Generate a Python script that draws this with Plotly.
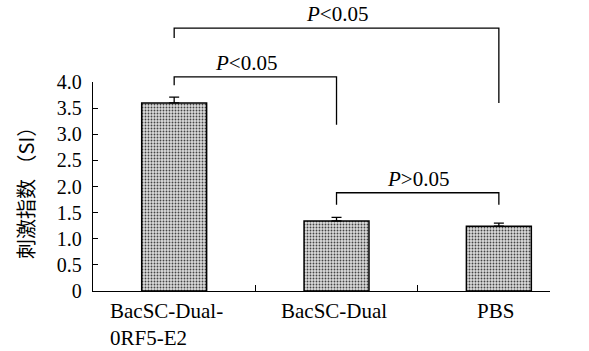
import plotly.graph_objects as go

categories = ["BacSC-Dual-<br>0RF5-E2", "BacSC-Dual", "PBS"]
si_values = [3.60, 1.34, 1.24]
si_errors = [0.11, 0.07, 0.06]
y_ticks = [0, 0.5, 1.0, 1.5, 2.0, 2.5, 3.0, 3.5, 4.0]
y_ticklabels = ["0", "0.5", "1.0", "1.5", "2.0", "2.5", "3.0", "3.5", "4.0"]

# significance brackets: (left cat, right cat, bar level, left arm end, right arm end, label)
brk_left = [0, 0, 1]
brk_right = [2, 1, 2]
brk_level = [5.03, 4.10, 1.88]
brk_left_end = [4.84, 3.94, 1.65]
brk_right_end = [3.60, 3.18, 1.65]
brk_label = ["<i>P</i>&lt;0.05", "<i>P</i>&lt;0.05", "<i>P</i>&gt;0.05"]

YMAX = 4.0
SERIF = "Liberation Serif"

fig = go.Figure()
xs = list(range(len(categories)))
fig.add_trace(go.Bar(
    x=xs, y=si_values, width=0.4,
    marker=dict(
        color="#cfcfcf",
        line=dict(color="black", width=1.5),
        pattern=dict(shape=".", fgcolor="#444444", bgcolor="#dadada", size=3, solidity=0.3, fillmode="replace"),
    ),
    error_y=dict(type="data", array=si_errors, arrayminus=[0] * len(si_errors), symmetric=False,
                 color="black", thickness=1.3, width=5),
    showlegend=False,
))

shapes = []
annotations = []
for i in range(len(brk_level)):
    xl, xr = brk_left[i], brk_right[i]
    lvl = brk_level[i] / YMAX
    shapes.append(dict(type="path", xref="x", yref="paper",
                       path=f"M {xl},{brk_left_end[i]/YMAX} L {xl},{lvl} L {xr},{lvl} L {xr},{brk_right_end[i]/YMAX}",
                       line=dict(color="black", width=1.3)))
    annotations.append(dict(x=(xl + xr) / 2 - 0.06 * (1 if i == 1 else 0), y=lvl, xref="x", yref="paper",
                            text=brk_label[i], showarrow=False, yanchor="bottom", yshift=0,
                            font=dict(family=SERIF, size=21, color="black")))

for i, c in enumerate(categories):
    annotations.append(dict(x=i, y=0, xref="x", yref="paper", text=c, showarrow=False,
                            yanchor="top", yshift=-6, xshift=-8 if i == 0 else -3,
                            align="left",
                            font=dict(family=SERIF, size=21, color="black")))

annotations.append(dict(x=-0.148, y=0.495, xref="paper", yref="paper", text="刺激指数 （SI）",
                        textangle=-90, showarrow=False, xanchor="center", yanchor="middle",
                        font=dict(family="Noto Sans CJK SC", size=20, color="black")))

fig.update_layout(
    width=589, height=351,
    margin=dict(l=93, r=39, t=82, b=60),
    plot_bgcolor="white", paper_bgcolor="white",
    shapes=shapes, annotations=annotations,
    font=dict(family=SERIF, size=20, color="black"),
)
fig.update_xaxes(range=[-0.5, 2.315], tickvals=[0.5, 1.5], showticklabels=False,
                 ticks="inside", ticklen=6, tickwidth=1.3, tickcolor="black",
                 showline=True, linecolor="black", linewidth=1.3, showgrid=False, zeroline=False)
fig.update_yaxes(range=[0, YMAX], tickvals=y_ticks, ticktext=y_ticklabels,
                 ticks="inside", ticklen=5, tickwidth=1.3, tickcolor="black",
                 showline=True, linecolor="black", linewidth=1.3, showgrid=False, zeroline=False,
                 ticklabelstandoff=6,
                 tickfont=dict(family=SERIF, size=20, color="black"))

fig.write_html("out.html", config={"displayModeBar": False},
               post_script="document.body.style.margin='0';document.body.style.padding='0';")
